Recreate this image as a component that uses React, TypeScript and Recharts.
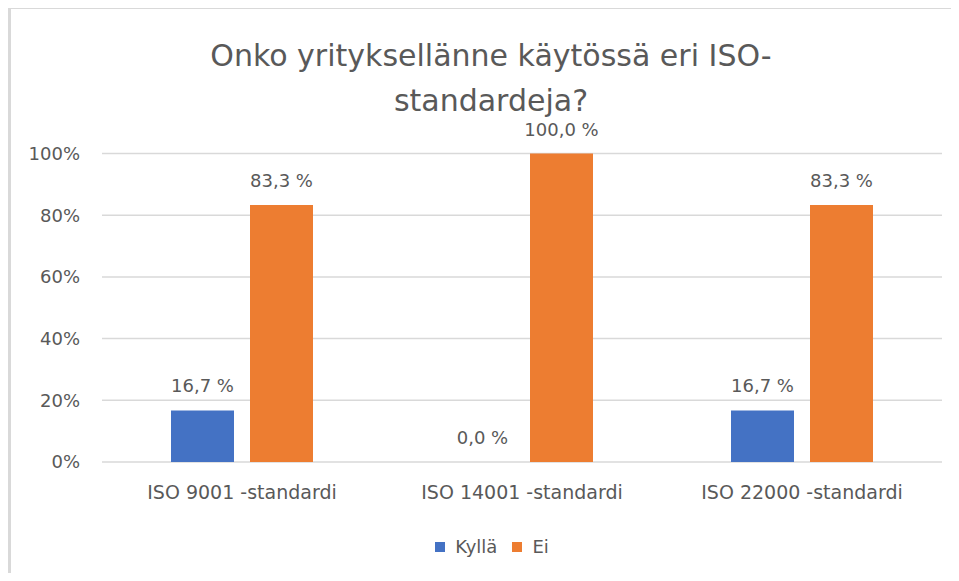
import React from "react";
import {
  Bar,
  BarChart,
  CartesianGrid,
  LabelList,
  XAxis,
  YAxis,
} from "recharts";

const categories = [
  "ISO 9001 -standardi",
  "ISO 14001 -standardi",
  "ISO 22000 -standardi",
];
const kyllaValues = [16.7, 0, 16.7];
const eiValues = [83.3, 100, 83.3];
const yTicks = [0, 20, 40, 60, 80, 100];

const titleLines = ["Onko yrityksellänne käytössä eri ISO-", "standardeja?"];

const FONT = "'DejaVu Sans', sans-serif";
const TEXT = "#595959";
const GRID = "#D9D9D9";
const BLUE = "#4472C4";
const ORANGE = "#ED7D31";

const data = categories.map((name, i) => ({
  name,
  kylla: kyllaValues[i],
  ei: eiValues[i],
}));

const formatPct = (v: number) => `${Number(v).toFixed(1).replace(".", ",")} %`;

const legendItems = [
  { label: "Kyllä", color: BLUE },
  { label: "Ei", color: ORANGE },
];

const App: React.FC = () => {
  return (
    <div
      style={{
        position: "relative",
        width: 959,
        height: 581,
        margin: -8,
        overflow: "hidden",
        background: "#fff",
        fontFamily: FONT,
      }}
    >
      {/* chart frame, cut off at right and bottom like the screenshot */}
      <div
        style={{
          position: "absolute",
          left: 8,
          top: 7,
          width: 1000,
          height: 1000,
          borderTop: `2px solid ${GRID}`,
          borderLeft: `3px solid ${GRID}`,
          boxSizing: "border-box",
        }}
      />
      <div
        style={{
          position: "absolute",
          left: 0,
          top: 33,
          width: 982,
          textAlign: "center",
          color: TEXT,
          fontSize: 30,
          lineHeight: "45px",
        }}
      >
        {titleLines.map((t) => (
          <div key={t}>{t}</div>
        ))}
      </div>

      <div style={{ position: "absolute", left: 0, top: 0 }}>
        <BarChart
          width={959}
          height={581}
          data={data}
          margin={{ top: 153.5, right: 17, left: 0, bottom: 59 }}
          barSize={63}
          barGap={16}
        >
          <CartesianGrid vertical={false} stroke={GRID} strokeWidth={1.5} />
          <XAxis
            dataKey="name"
            height={60}
            axisLine={false}
            tickLine={false}
            tickSize={0}
            tickMargin={24}
            tick={{ fill: TEXT, fontSize: 19, fontFamily: FONT }}
          />
          <YAxis
            width={102}
            domain={[0, 100]}
            ticks={yTicks}
            axisLine={false}
            tickLine={false}
            tickSize={0}
            tickMargin={22}
            tickFormatter={(v) => `${v}%`}
            tick={{ fill: TEXT, fontSize: 18, fontFamily: FONT }}
          />
          <Bar
            dataKey="kylla"
            name="Kyllä"
            fill={BLUE}
            minPointSize={0.01}
            isAnimationActive={false}
          >
            <LabelList
              dataKey="kylla"
              position="top"
              offset={18}
              formatter={(v: number) => formatPct(v)}
              fill={TEXT}
              fontSize={18}
              fontFamily={FONT}
            />
          </Bar>
          <Bar dataKey="ei" name="Ei" fill={ORANGE} isAnimationActive={false}>
            <LabelList
              dataKey="ei"
              position="top"
              offset={18}
              formatter={(v: number) => formatPct(v)}
              fill={TEXT}
              fontSize={18}
              fontFamily={FONT}
            />
          </Bar>
        </BarChart>
      </div>

      <div
        style={{
          position: "absolute",
          left: 0,
          top: 535,
          width: 984,
          display: "flex",
          justifyContent: "center",
          alignItems: "center",
          color: TEXT,
          fontSize: 18,
          lineHeight: "24px",
        }}
      >
        {legendItems.map((item, i) => (
          <div
            key={item.label}
            style={{
              display: "flex",
              alignItems: "center",
              marginLeft: i === 0 ? 0 : 15,
            }}
          >
            <span
              style={{
                display: "inline-block",
                width: 10,
                height: 10,
                background: item.color,
                marginRight: 10,
              }}
            />
            <span>{item.label}</span>
          </div>
        ))}
      </div>
    </div>
  );
};

export default App;
